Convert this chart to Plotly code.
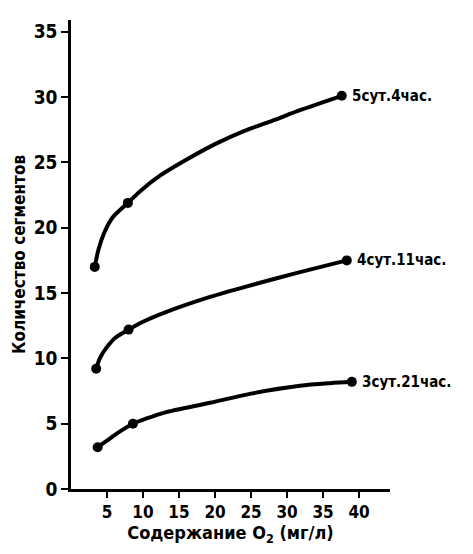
import plotly.graph_objects as go

# Measured points (markers)
x_meas_5d4h = [3.3, 7.9, 37.6]
y_meas_5d4h = [17.0, 21.9, 30.1]
x_meas_4d11h = [3.5, 8.0, 38.3]
y_meas_4d11h = [9.2, 12.2, 17.5]
x_meas_3d21h = [3.7, 8.6, 39.0]
y_meas_3d21h = [3.2, 5.0, 8.2]

# Points
x_curve_5d4h = [3.3, 3.8, 4.6, 5.8, 7.9, 9.6, 12.4, 16.0, 20.0, 24.0, 28.0, 31.8, 37.6]
y_curve_5d4h = [17.0, 18.3, 19.6, 20.8, 21.9, 22.8, 24.0, 25.2, 26.4, 27.4, 28.2, 29.0, 30.1]
x_curve_4d11h = [3.5, 4.0, 4.9, 6.2, 8.0, 10.0, 13.0, 19.3, 25.0, 31.8, 38.3]
y_curve_4d11h = [9.2, 10.0, 10.8, 11.6, 12.2, 12.8, 13.5, 14.7, 15.6, 16.6, 17.5]
x_curve_3d21h = [3.7, 5.0, 6.5, 8.6, 10.5, 13.0, 19.3, 25.0, 31.8, 36.0, 39.0]
y_curve_3d21h = [3.2, 3.7, 4.3, 5.0, 5.4, 5.85, 6.6, 7.3, 7.9, 8.1, 8.2]

series_labels = ["5сут.4час.", "4сут.11час.", "3сут.21час."]

x_ticks = [5, 10, 15, 20, 25, 30, 35, 40]
y_ticks = [0, 5, 10, 15, 20, 25, 30, 35]

FONT = "DejaVu Sans Condensed, Liberation Sans Narrow, sans-serif"

fig = go.Figure()
curves = [
    (x_curve_5d4h, y_curve_5d4h, x_meas_5d4h, y_meas_5d4h),
    (x_curve_4d11h, y_curve_4d11h, x_meas_4d11h, y_meas_4d11h),
    (x_curve_3d21h, y_curve_3d21h, x_meas_3d21h, y_meas_3d21h),
]
for (xc, yc, xm, ym), lab in zip(curves, series_labels):
    fig.add_trace(go.Scatter(x=xc, y=yc, mode="lines",
                             line=dict(color="black", width=4, shape="spline", smoothing=0.8),
                             showlegend=False, hoverinfo="skip"))
    fig.add_trace(go.Scatter(x=xm, y=ym, mode="markers", marker=dict(color="black", size=10),
                             showlegend=False, name=lab))
    fig.add_annotation(x=xm[-1], y=ym[-1], text=lab, showarrow=False, xanchor="left", yanchor="middle",
                       xshift=8, font=dict(family=FONT, size=15, color="black", weight="bold"))

fig.update_layout(
    width=473, height=554,
    margin=dict(l=71, r=83, t=20, b=65),
    paper_bgcolor="white", plot_bgcolor="white",
    font=dict(family=FONT, color="black", weight="bold"),
)
fig.update_xaxes(
    range=[0, 44.3], tickvals=x_ticks, ticktext=[str(v) for v in x_ticks],
    showgrid=False, zeroline=False, showline=True, linecolor="black", linewidth=2.5,
    ticks="outside", ticklen=6, tickwidth=2, tickcolor="black",
    tickfont=dict(family=FONT, size=17, color="black", weight="bold"),
    title=dict(text="Содержание O<sub>2</sub> (мг/л)", standoff=6,
               font=dict(family=FONT, size=18, color="black", weight="bold")),
)
fig.update_yaxes(
    range=[0, 35.9], tickvals=y_ticks, ticktext=[str(v) for v in y_ticks],
    showgrid=False, zeroline=False, showline=True, linecolor="black", linewidth=2.5,
    ticks="outside", ticklen=7, tickwidth=2, tickcolor="black",
    tickfont=dict(family=FONT, size=19, color="black", weight="bold"),
    title=dict(text="Количество сегментов", standoff=4,
               font=dict(family=FONT, size=17, color="black", weight="bold")),
)

fig.write_html("out.html")
